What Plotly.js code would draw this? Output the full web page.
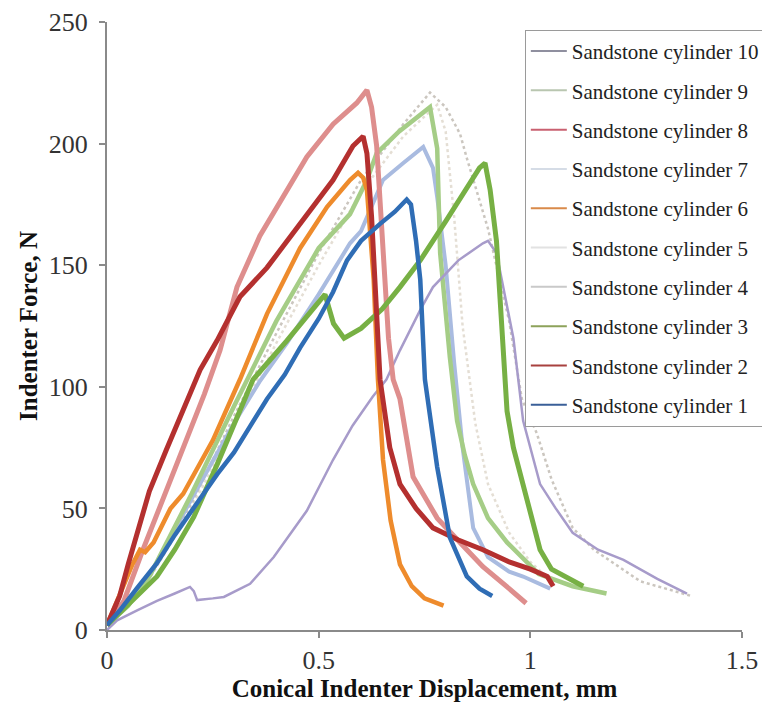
<!DOCTYPE html>
<html>
<head>
<meta charset="utf-8">
<script src="https://cdn.plot.ly/plotly-3.0.1.min.js"></script>
<style>html,body{margin:0;padding:0;background:#fff;}#chart{width:762px;height:702px;}</style>
</head>
<body>
<div id="chart"></div>
<script>
// Sandstone cylinder 1
const c1x = [0, 0.03, 0.07, 0.118, 0.16, 0.213, 0.26, 0.3, 0.34, 0.378, 0.42, 0.456, 0.5, 0.534, 0.567, 0.6, 0.645, 0.68, 0.708, 0.718, 0.73, 0.74, 0.751, 0.765, 0.78, 0.81, 0.85, 0.88, 0.91];
const c1y = [2, 8, 17, 27.5, 39, 52, 64, 73, 84, 95, 105, 116, 128, 139, 152, 160, 167, 172, 177, 175, 160, 144, 103, 85, 67, 38, 22, 17, 14];
// Sandstone cylinder 2
const c2x = [0, 0.03, 0.05, 0.078, 0.1, 0.14, 0.17, 0.196, 0.22, 0.26, 0.314, 0.378, 0.425, 0.487, 0.534, 0.581, 0.605, 0.614, 0.625, 0.645, 0.668, 0.692, 0.73, 0.77, 0.83, 0.888, 0.95, 1.0, 1.04, 1.054];
const c2y = [2, 14, 27, 44, 57, 74, 86, 97, 107, 119, 137, 149, 160, 174, 185, 199, 203, 196, 170, 103, 75, 60, 50, 42, 37, 33, 28, 25, 22, 18];
// Sandstone cylinder 3
const c3x = [0, 0.03, 0.07, 0.118, 0.16, 0.205, 0.26, 0.3, 0.345, 0.425, 0.496, 0.515, 0.535, 0.56, 0.6, 0.65, 0.692, 0.74, 0.8, 0.85, 0.88, 0.893, 0.905, 0.92, 0.936, 0.945, 0.96, 0.983, 1.0, 1.023, 1.05, 1.09, 1.125];
const c3y = [2, 7, 14, 22, 33, 46.5, 68, 85, 103, 119, 134, 138, 126, 120, 124, 132, 141, 152, 168, 182, 190, 192, 181, 160, 114, 90, 75, 60, 47, 33, 25, 21, 18];
// Sandstone cylinder 4
const c4x = [0, 0.1, 0.2, 0.3, 0.4, 0.5, 0.6, 0.7, 0.763, 0.8, 0.834, 0.85, 0.9, 0.95, 0.98, 1.015, 1.05, 1.1, 1.15, 1.2, 1.26, 1.32, 1.38];
const c4y = [2, 22, 52, 88, 122, 155, 185, 208, 221, 215, 204, 194, 165, 127, 95, 81, 62, 42, 33, 27, 20, 17, 14];
// Sandstone cylinder 5
const c5x = [0, 0.1, 0.2, 0.3, 0.4, 0.5, 0.6, 0.7, 0.78, 0.8, 0.82, 0.84, 0.87, 0.9, 0.95, 1.0, 1.05];
const c5y = [2, 21, 50, 84, 118, 150, 180, 203, 216, 205, 170, 125, 85, 60, 40, 28, 20];
// Sandstone cylinder 6
const c6x = [0, 0.03, 0.06, 0.078, 0.09, 0.11, 0.15, 0.18, 0.25, 0.314, 0.378, 0.456, 0.52, 0.574, 0.593, 0.605, 0.614, 0.63, 0.64, 0.652, 0.67, 0.692, 0.72, 0.75, 0.795];
const c6y = [2, 14, 27, 33, 32, 36, 50, 56, 78, 103, 130, 157, 174, 185, 188, 186, 181, 144, 103, 70, 45, 27, 18, 13, 10];
// Sandstone cylinder 7
const c7x = [0, 0.1, 0.2, 0.3, 0.36, 0.425, 0.5, 0.574, 0.6, 0.652, 0.7, 0.747, 0.77, 0.78, 0.8, 0.82, 0.84, 0.865, 0.9, 0.95, 0.983, 1.047];
const c7y = [2, 22, 54, 85, 102, 118, 138, 159, 164, 185, 192, 198.6, 190, 178, 150, 110, 75, 42, 30, 24, 22, 17];
// Sandstone cylinder 8
const c8x = [0, 0.04, 0.085, 0.14, 0.196, 0.23, 0.267, 0.307, 0.361, 0.416, 0.472, 0.534, 0.59, 0.614, 0.625, 0.637, 0.65, 0.665, 0.676, 0.692, 0.723, 0.78, 0.85, 0.888, 0.95, 0.99];
const c8y = [2, 12, 33, 57, 81, 97, 115, 141, 162, 178, 194.5, 208, 216.7, 222, 215, 199, 160, 120, 103, 95, 63, 46, 33, 26, 17, 11];
// Sandstone cylinder 9
const c9x = [0, 0.05, 0.1, 0.2, 0.3, 0.4, 0.5, 0.574, 0.614, 0.637, 0.69, 0.74, 0.763, 0.78, 0.787, 0.81, 0.827, 0.845, 0.865, 0.9, 0.945, 1.02, 1.1, 1.18];
const c9y = [2, 10, 22, 56, 92, 127, 157, 171, 185, 196, 205, 212, 215, 198, 155, 112, 86, 72, 60, 46, 36, 23, 18, 15];
// Sandstone cylinder 10
const c10x = [0, 0.024, 0.07, 0.118, 0.16, 0.196, 0.205, 0.213, 0.25, 0.276, 0.338, 0.378, 0.394, 0.472, 0.534, 0.58, 0.628, 0.66, 0.692, 0.74, 0.77, 0.83, 0.888, 0.9, 0.92, 0.96, 0.983, 1.023, 1.06, 1.1, 1.16, 1.22, 1.3, 1.37];
const c10y = [0, 4, 8, 12, 15, 17.7, 16, 12.3, 13, 13.6, 19, 27, 30, 49, 70, 84, 96, 103, 115, 131.6, 141, 152, 159, 160, 155, 120, 86, 60, 50, 40, 33, 28.8, 21, 15];

const names = ["Sandstone cylinder 1","Sandstone cylinder 2","Sandstone cylinder 3","Sandstone cylinder 4","Sandstone cylinder 5","Sandstone cylinder 6","Sandstone cylinder 7","Sandstone cylinder 8","Sandstone cylinder 9","Sandstone cylinder 10"];
const xs = [c1x,c2x,c3x,c4x,c5x,c6x,c7x,c8x,c9x,c10x];
const ys = [c1y,c2y,c3y,c4y,c5y,c6y,c7y,c8y,c9y,c10y];
const colors = ["#2F6DB5","#B4302F","#77B044","#CBC6BF","#E4DED4","#EE8B2C","#A9BBE0","#DE8E8D","#A5CD86","#A79BCA"];
const legendColors = ["#3A5F98","#A8413F","#8DA25A","#C9C9C9","#E2E2E2","#D98A4A","#D5DCE6","#C96070","#B9C6B0","#8F8F9F"];
const widths = [4.5,5,5,2.5,2.5,4.5,4,5,4.5,2.5];
const dashes = ["solid","solid","solid","dot","dot","solid","solid","solid","solid","solid"];
const drawOrder = [4,3,6,8,9,7,5,2,1,0];

const traces = drawOrder.map(i => ({
  type: "scatter", mode: "lines",
  x: xs[i], y: ys[i], name: names[i],
  showlegend: false,
  line: {color: colors[i], width: widths[i], dash: dashes[i]}
}));
// legend entries (thin sample lines as in the reference legend)
names.forEach((n, i) => traces.push({
  type: "scatter", mode: "lines", x: [null], y: [null], name: n,
  legendrank: 10 - i, legendgroup: "g" + i,
  line: {color: legendColors[i], width: 2}
}));

const serif = "Liberation Serif, Times New Roman, serif";
const layout = {
  width: 762, height: 702,
  margin: {l: 107, r: 20, t: 22, b: 72, autoexpand: false},
  paper_bgcolor: "#fff", plot_bgcolor: "#fff",
  showlegend: true,
  legend: {
    x: 0.658, xanchor: "left", y: 0.987, yanchor: "top",
    bordercolor: "#9a9a9a", borderwidth: 1, bgcolor: "#fff",
    font: {family: serif, size: 21, color: "#222"},
    itemwidth: 36,
    traceorder: "grouped", tracegroupgap: 9
  },
  xaxis: {
    range: [0, 1.5], tickvals: [0, 0.5, 1, 1.5], ticktext: ["0","0.5","1","1.5"],
    automargin: false,
    showline: true, linecolor: "#8a8a8a", linewidth: 2, showgrid: false, zeroline: false,
    ticks: "outside", ticklen: 6, tickcolor: "#8a8a8a", tickwidth: 2,
    tickfont: {family: serif, size: 26, color: "#333"},
    title: {text: "Conical Indenter Displacement, mm", font: {family: serif, size: 25, color: "#111", weight: "bold"}, standoff: 2}
  },
  yaxis: {
    range: [0, 250], tickvals: [0, 50, 100, 150, 200, 250],
    automargin: false,
    showline: true, linecolor: "#8a8a8a", linewidth: 2, showgrid: false, zeroline: false,
    ticks: "outside", ticklen: 6, tickcolor: "#8a8a8a", tickwidth: 2, ticklabelstandoff: 6,
    tickfont: {family: serif, size: 26, color: "#333"},
    title: {text: "Indenter Force, N", font: {family: serif, size: 25, color: "#111", weight: "bold"}, standoff: 4}
  }
};
Plotly.newPlot("chart", traces, layout, {displayModeBar: false, staticPlot: true});
</script>
</body>
</html>
